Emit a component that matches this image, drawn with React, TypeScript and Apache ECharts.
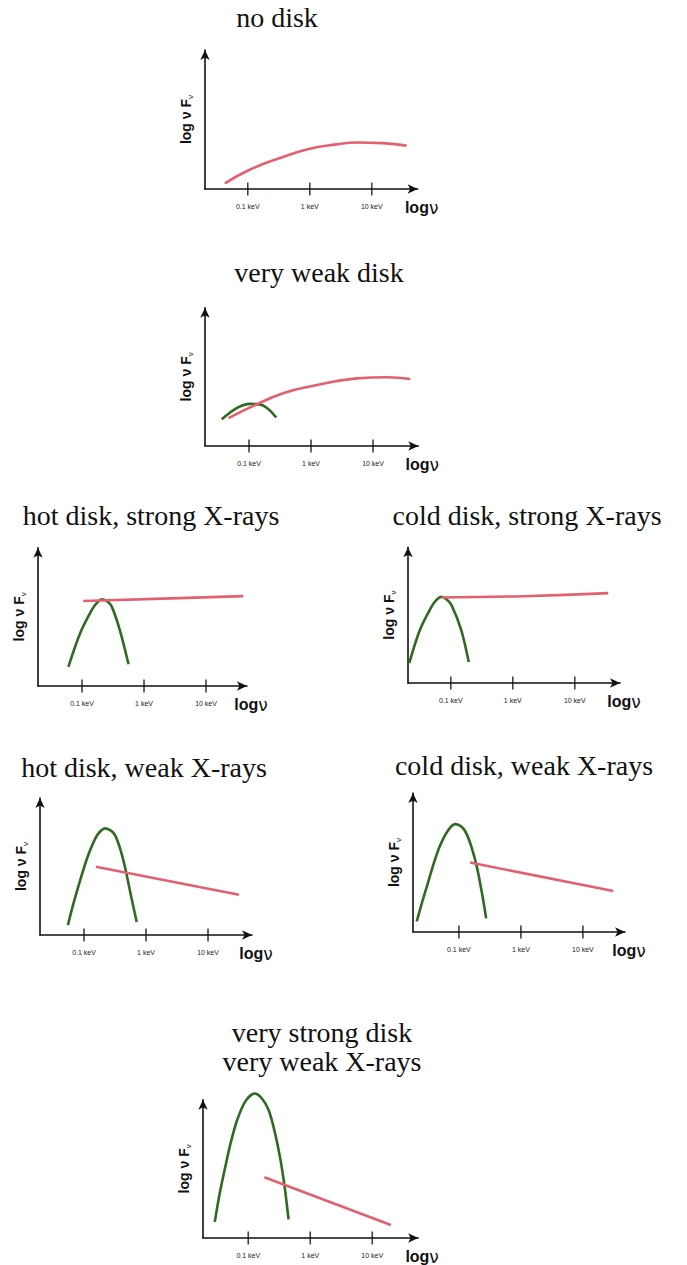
import React, { useEffect, useRef } from "react";
import * as echarts from "echarts";

// ---------- data ----------
const TICK_VALUES = [-1, 0, 1]; // log10(E / keV)
const TICK_LABELS = ["0.1 keV", "1 keV", "10 keV"];

const PANEL_TITLES = [
  ["no disk"],
  ["very weak disk"],
  ["hot disk, strong X-rays"],
  ["cold disk, strong X-rays"],
  ["hot disk, weak X-rays"],
  ["cold disk, weak X-rays"],
  ["very strong disk", "very weak X-rays"],
];

// [log E (keV), log νFν (arbitrary)]
const NO_DISK_XRAY = [[-1.37, 0.09], [-0.97, 0.31], [-0.48, 0.5], [0, 0.65], [0.43, 0.72], [0.75, 0.75], [1.18, 0.74], [1.56, 0.7]];

const WEAK_DISK_XRAY = [[-1.33, 0.45], [-0.88, 0.67], [-0.45, 0.85], [-0.02, 0.96], [0.74, 1.09], [1.22, 1.11], [1.6, 1.08]];
const WEAK_DISK_DISK = [[-1.44, 0.43], [-1.2, 0.61], [-0.98, 0.68], [-0.79, 0.66], [-0.66, 0.57], [-0.56, 0.46]];

const HOT_STRONG_XRAY = [[-0.98, 1.37], [0.31, 1.41], [1.6, 1.45]];
const HOT_STRONG_DISK = [[-1.22, 0.31], [-1.03, 0.85], [-0.84, 1.23], [-0.76, 1.34], [-0.68, 1.4], [-0.6, 1.37], [-0.52, 1.28], [-0.39, 0.9], [-0.25, 0.35]];

const COLD_STRONG_XRAY = [[-1.15, 1.38], [0.17, 1.4], [1.54, 1.45]];
const COLD_STRONG_DISK = [[-1.67, 0.32], [-1.5, 0.85], [-1.31, 1.23], [-1.23, 1.34], [-1.15, 1.39], [-1.07, 1.35], [-0.99, 1.26], [-0.83, 0.85], [-0.71, 0.34]];

const HOT_WEAK_XRAY = [[-0.81, 1.1], [1.5, 0.65]];
const HOT_WEAK_DISK = [[-1.26, 0.16], [-1.17, 0.51], [-1.06, 0.89], [-0.96, 1.21], [-0.88, 1.42], [-0.78, 1.62], [-0.66, 1.72], [-0.56, 1.68], [-0.5, 1.61], [-0.42, 1.4], [-0.34, 1.1], [-0.24, 0.62], [-0.15, 0.21]];

const COLD_WEAK_XRAY = [[-0.82, 1.12], [1.49, 0.66]];
const COLD_WEAK_DISK = [[-1.68, 0.17], [-1.59, 0.49], [-1.5, 0.79], [-1.41, 1.09], [-1.31, 1.38], [-1.18, 1.63], [-1.06, 1.74], [-0.96, 1.7], [-0.88, 1.59], [-0.79, 1.35], [-0.71, 1.05], [-0.63, 0.64], [-0.56, 0.22]];

const STRONG_DISK_XRAY = [[-0.74, 0.98], [1.3, 0.21]];
const STRONG_DISK_DISK = [[-1.54, 0.26], [-1.46, 0.72], [-1.37, 1.15], [-1.28, 1.55], [-1.18, 1.9], [-1.05, 2.2], [-0.9, 2.33], [-0.78, 2.25], [-0.67, 2.06], [-0.57, 1.7], [-0.48, 1.26], [-0.41, 0.8], [-0.35, 0.3]];

const XRAY_CURVES = [NO_DISK_XRAY, WEAK_DISK_XRAY, HOT_STRONG_XRAY, COLD_STRONG_XRAY, HOT_WEAK_XRAY, COLD_WEAK_XRAY, STRONG_DISK_XRAY];
const DISK_CURVES = [null, WEAK_DISK_DISK, HOT_STRONG_DISK, COLD_STRONG_DISK, HOT_WEAK_DISK, COLD_WEAK_DISK, STRONG_DISK_DISK];

// ---------- layout (pixels) ----------
const DECADE_PX = 62;
const LAYOUT = [
  { ox: 205, oy: 189, xMin: -1.69, xMax: 1.74, yMax: 2.24, tx: 277, ty: 17 },
  { ox: 205, oy: 446, xMin: -1.71, xMax: 1.73, yMax: 2.23, tx: 319, ty: 272 },
  { ox: 38, oy: 686, xMin: -1.71, xMax: 1.66, yMax: 2.23, tx: 151, ty: 515 },
  { ox: 408, oy: 683, xMin: -1.69, xMax: 1.73, yMax: 2.19, tx: 527, ty: 515 },
  { ox: 40, oy: 935, xMin: -1.71, xMax: 1.71, yMax: 2.21, tx: 144, ty: 767 },
  { ox: 413, oy: 932, xMin: -1.74, xMax: 1.68, yMax: 2.24, tx: 524, ty: 765 },
  { ox: 203, oy: 1238, xMin: -1.73, xMax: 1.74, yMax: 2.23, tx: 322, ty: 1032 },
];
const TITLE_LINE_GAP = 29;

const RED = "#e2606f";
const GREEN = "#2f6a22";
const AXIS_COLOR = "#111";

function buildOption() {
  const grid: any[] = [];
  const xAxis: any[] = [];
  const yAxis: any[] = [];
  const series: any[] = [];
  const graphic: any[] = [];

  LAYOUT.forEach((L, i) => {
    grid.push({
      left: L.ox,
      top: L.oy - L.yMax * DECADE_PX,
      width: (L.xMax - L.xMin) * DECADE_PX,
      height: L.yMax * DECADE_PX,
      containLabel: false,
      outerBoundsMode: "none",
    });
    xAxis.push({
      gridIndex: i,
      type: "value",
      min: L.xMin,
      max: L.xMax,
      splitLine: { show: false },
      axisTick: { show: false },
      axisLine: {
        show: true,
        onZero: false,
        symbol: ["none", "arrow"],
        symbolSize: [7, 10],
        lineStyle: { color: AXIS_COLOR, width: 1.6 },
      },
      axisLabel: {
        customValues: TICK_VALUES,
        formatter: (v: number) => TICK_LABELS[TICK_VALUES.indexOf(Math.round(v))] ?? "",
        fontSize: 7,
        fontFamily: "Liberation Sans",
        color: "#222",
        margin: 14,
      },
      name: "log{n|ν}",
      nameLocation: "end",
      nameGap: 4,
      nameTextStyle: {
        fontFamily: "Liberation Sans",
        fontWeight: "bold",
        fontSize: 16,
        color: "#111",
        align: "center",
        verticalAlign: "top",
        padding: [10, 0, 0, 0],
        rich: {
          n: { fontFamily: "DejaVu Sans", fontWeight: "normal", fontSize: 17, color: "#111" },
        },
      },
    });
    yAxis.push({
      gridIndex: i,
      type: "value",
      min: 0,
      max: L.yMax,
      splitLine: { show: false },
      axisTick: { show: false },
      axisLabel: { show: false },
      axisLine: {
        show: true,
        onZero: false,
        symbol: ["none", "arrow"],
        symbolSize: [7, 10],
        lineStyle: { color: AXIS_COLOR, width: 1.6 },
      },
      name: "log ν F{s|ν}",
      nameLocation: "middle",
      nameRotate: 90,
      nameGap: 11,
      nameTextStyle: {
        fontFamily: "Liberation Sans",
        fontWeight: "bold",
        fontSize: 14,
        color: "#111",
        rich: {
          s: { fontFamily: "Liberation Sans", fontWeight: "normal", fontSize: 8, color: "#111", padding: [8, 0, 0, 0] },
        },
      },
    });
    // tick marks crossing the axis
    series.push({
      type: "scatter",
      xAxisIndex: i,
      yAxisIndex: i,
      data: TICK_VALUES.map((t) => [t, 0]),
      symbol: "rect",
      symbolSize: [1.6, 13],
      itemStyle: { color: AXIS_COLOR },
      silent: true,
      clip: false,
      z: 3,
    });
    const disk = DISK_CURVES[i];
    if (disk) {
      series.push({
        type: "line",
        xAxisIndex: i,
        yAxisIndex: i,
        data: disk,
        smooth: 0.3,
        showSymbol: false,
        clip: false,
        lineStyle: { color: GREEN, width: 2.6 },
        z: 4,
      });
    }
    series.push({
      type: "line",
      xAxisIndex: i,
      yAxisIndex: i,
      data: XRAY_CURVES[i],
      smooth: true,
      showSymbol: false,
      clip: false,
      lineStyle: { color: RED, width: 2.6 },
      z: 5,
    });
    PANEL_TITLES[i].forEach((line, k) => {
      graphic.push({
        type: "text",
        x: L.tx,
        y: L.ty + k * TITLE_LINE_GAP,
        style: {
          text: line,
          font: '28px "Liberation Serif"',
          fill: "#111",
          align: "center",
          verticalAlign: "middle",
        },
      });
    });
  });

  return {
    animation: false,
    backgroundColor: "#ffffff",
    grid,
    xAxis,
    yAxis,
    series,
    graphic,
  };
}

export default function App() {
  const ref = useRef<HTMLDivElement>(null);
  useEffect(() => {
    if (!ref.current) return;
    const chart = echarts.init(ref.current, undefined, { renderer: "svg" });
    chart.setOption(buildOption() as any);
    return () => chart.dispose();
  }, []);
  return (
    <div
      ref={ref}
      style={{ position: "fixed", left: 0, top: 0, width: 687, height: 1265, background: "#fff" }}
    />
  );
}
